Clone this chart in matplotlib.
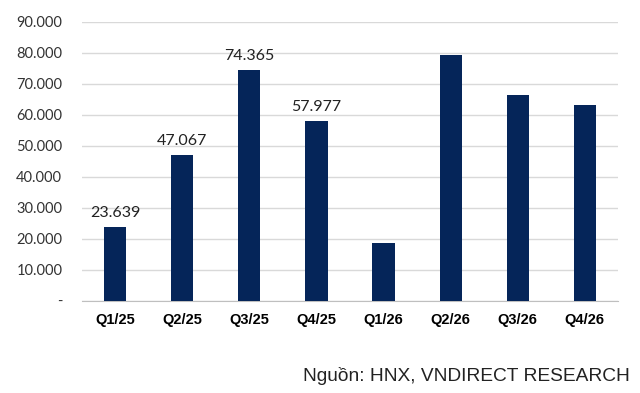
import matplotlib.pyplot as plt
import numpy as np

# du lieu
quy = ["Q1/25", "Q2/25", "Q3/25", "Q4/25", "Q1/26", "Q2/26", "Q3/26", "Q4/26"]
gia_tri = [23639, 47067, 74365, 57977, 18700, 79300, 66300, 63100]
nhan = ["23.639", "47.067", "74.365", "57.977", "", "", "", ""]
y_ticks = [0, 10000, 20000, 30000, 40000, 50000, 60000, 70000, 80000, 90000]
y_labels = ["-", "10.000", "20.000", "30.000", "40.000", "50.000",
            "60.000", "70.000", "80.000", "90.000"]

fig = plt.figure(figsize=(6.4, 3.93), dpi=100)
ax = fig.add_axes([0.1277, 0.235, 0.8383, 0.71])

x = np.arange(len(quy))
bars = ax.bar(x, gia_tri, width=0.33, color="#052559", zorder=3)

for b, t in zip(bars, nhan):
    if t:
        ax.text(b.get_x() + b.get_width() / 2, b.get_height() + 2300, t,
                ha="center", va="bottom", fontsize=11.5, family="Lato", color="#222222")

ax.set_xlim(-0.5, len(quy) - 0.5)
ax.set_ylim(0, 90000)
ax.set_yticks(y_ticks)
ax.set_yticklabels(y_labels, fontsize=10.5, family="Lato", color="#333333")
ax.set_xticks(x)
ax.set_xticklabels(quy, fontsize=10.5, fontweight="bold", family="Liberation Sans")
ax.tick_params(axis="both", length=0)
ax.tick_params(axis="y", pad=14)
ax.tick_params(axis="x", pad=9)

ax.grid(axis="y", color="#d9d9d9", linewidth=1, zorder=0)
for s in ["top", "right", "left"]:
    ax.spines[s].set_visible(False)
ax.spines["bottom"].set_color("#bfbfbf")

fig.text(0.984, 0.042, "Nguồn: HNX, VNDIRECT RESEARCH", ha="right", va="center",
         fontsize=13.8, family="Liberation Sans", color="#222222")

fig.savefig("out.png", dpi=100)
